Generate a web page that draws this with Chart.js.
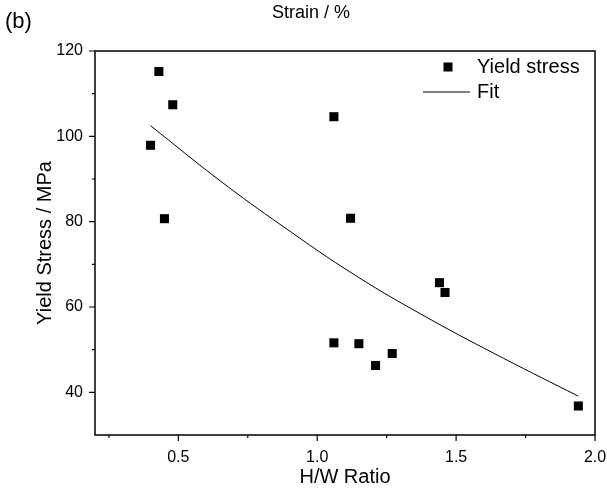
<!DOCTYPE html>
<html>
<head>
<meta charset="utf-8">
<script src="https://cdn.jsdelivr.net/npm/chart.js@4/dist/chart.umd.min.js"></script>
<style>
html,body{margin:0;padding:0;background:#fff;}
#wrap{position:relative;width:607px;height:490px;}
</style>
</head>
<body>
<div id="wrap"><canvas id="c" width="607" height="490"></canvas></div>
<script>
// ---- data ----
const hwRatio     = [0.40, 0.43, 0.45, 0.48, 1.06, 1.06, 1.12, 1.15, 1.21, 1.27, 1.44, 1.46, 1.94];
const yieldStress = [97.9, 115.2, 80.7, 107.4, 104.6, 51.6, 80.8, 51.4, 46.3, 49.1, 65.7, 63.4, 36.8];
const fitX        = [0.40, 0.65, 0.87, 1.14, 1.41, 1.67, 1.94];
const fitY        = [102.5, 89.6, 79.2, 67.3, 57.0, 48.0, 39.1];
const xMajorTicks = [0.5, 1.0, 1.5, 2.0];
const xMinorTicks = [0.25, 0.75, 1.25, 1.75];
const yMajorTicks = [40, 60, 80, 100, 120];
const yMinorTicks = [50, 70, 90, 110];
const seriesNames = ['Yield stress', 'Fit'];

const FONT = "'Liberation Sans', Arial, sans-serif";

const framePlugin = {
  id: 'frame',
  afterDraw(chart) {
    const {ctx, chartArea: a, scales: {x, y}} = chart;
    ctx.save();
    ctx.strokeStyle = '#000';
    ctx.lineWidth = 1.5;
    ctx.strokeRect(a.left, a.top, a.right - a.left, a.bottom - a.top);
    ctx.lineWidth = 1.2;
    ctx.beginPath();
    xMajorTicks.forEach(v => { const p = x.getPixelForValue(v); ctx.moveTo(p, a.bottom); ctx.lineTo(p, a.bottom + 6); });
    xMinorTicks.forEach(v => { const p = x.getPixelForValue(v); ctx.moveTo(p, a.bottom); ctx.lineTo(p, a.bottom + 3); });
    yMajorTicks.forEach(v => { const p = y.getPixelForValue(v); ctx.moveTo(a.left, p); ctx.lineTo(a.left - 6, p); });
    yMinorTicks.forEach(v => { const p = y.getPixelForValue(v); ctx.moveTo(a.left, p); ctx.lineTo(a.left - 3, p); });
    ctx.stroke();

    // legend (inside plot, top right)
    const lx = a.right - 172, ly1 = a.top + 16, ly2 = a.top + 41;
    ctx.fillStyle = '#000';
    ctx.fillRect(lx + 25 - 4.5, ly1 - 4.5, 9, 9);
    ctx.lineWidth = 1;
    ctx.beginPath(); ctx.moveTo(lx, ly2); ctx.lineTo(lx + 47, ly2); ctx.stroke();
    ctx.font = '20px ' + FONT;
    ctx.textBaseline = 'middle';
    ctx.textAlign = 'left';
    ctx.fillText(seriesNames[0], lx + 54, ly1);
    ctx.fillText(seriesNames[1], lx + 54, ly2);

    // panel label and top title
    ctx.font = '22px ' + FONT;
    ctx.fillText('(b)', 5, 22);
    ctx.font = '18px ' + FONT;
    ctx.textAlign = 'center';
    ctx.fillText('Strain / %', 311, 13);
    ctx.restore();
  }
};

new Chart(document.getElementById('c'), {
  type: 'scatter',
  data: {
    datasets: [
      {
        label: seriesNames[0],
        data: hwRatio.map((v, i) => ({x: v, y: yieldStress[i]})),
        pointStyle: 'rect',
        pointRadius: 6.4,
        pointHoverRadius: 6.4,
        backgroundColor: '#000',
        borderWidth: 0,
        order: 0
      },
      {
        label: seriesNames[1],
        data: fitX.map((v, i) => ({x: v, y: fitY[i]})),
        showLine: true,
        pointRadius: 0,
        borderColor: '#000',
        borderWidth: 1,
        tension: 0.4,
        fill: false,
        order: 1
      }
    ]
  },
  options: {
    responsive: false,
    animation: false,
    events: [],
    layout: {padding: {top: 51, right: 12, bottom: 0, left: 0}},
    plugins: {legend: {display: false}, tooltip: {enabled: false}},
    scales: {
      x: {
        type: 'linear', min: 0.2, max: 2.0,
        afterBuildTicks: s => { s.ticks = xMajorTicks.map(v => ({value: v})); },
        afterFit: s => { s.height = 55; s.paddingLeft = 0; s.paddingRight = 0; },
        grid: {display: false, drawTicks: false},
        border: {display: false},
        ticks: {color: '#000', font: {family: FONT, size: 16}, padding: 13,
                callback: v => Number(v).toFixed(1), maxRotation: 0},
        title: {display: true, text: 'H/W Ratio', color: '#000',
                font: {family: FONT, size: 20}, padding: {top: 0, bottom: 1}}
      },
      y: {
        type: 'linear', min: 30, max: 120,
        afterBuildTicks: s => { s.ticks = yMajorTicks.map(v => ({value: v})); },
        afterFit: s => { s.width = 95; s.paddingTop = 0; s.paddingBottom = 0; },
        grid: {display: false, drawTicks: false},
        border: {display: false},
        ticks: {color: '#000', font: {family: FONT, size: 16}, padding: 12,
                callback: v => String(v)},
        title: {display: true, text: 'Yield Stress / MPa', color: '#000',
                font: {family: FONT, size: 20}, padding: {top: 33, bottom: 0}}
      }
    }
  },
  plugins: [framePlugin]
});
</script>
</body>
</html>
